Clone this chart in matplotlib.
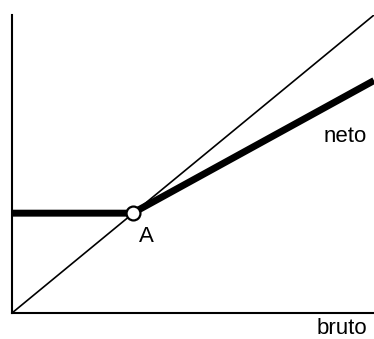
import matplotlib.pyplot as plt

plt.rcParams['font.family'] = ['Liberation Sans', 'DejaVu Sans']

# thin 45-degree line: neto = bruto
diag_x = [0.0, 1.0]
diag_y = [0.0, 1.0]

# thick line: neto as function of bruto
neto_x = [0.0, 0.333, 1.0]
neto_y = [0.335, 0.335, 0.78]

# point A
a_x = [0.333]
a_y = [0.335]

fig = plt.figure(figsize=(3.74, 3.39), dpi=100)
ax = fig.add_axes([12 / 374, 26 / 339, 362 / 374, 298 / 339])

ax.plot(diag_x, diag_y, color='black', lw=1.2, solid_capstyle='butt')
ax.plot(neto_x, neto_y, color='black', lw=5, solid_capstyle='butt', solid_joinstyle='miter')
ax.plot(a_x, a_y, 'o', ms=10, mfc='white', mec='black', mew=1.6, zorder=5)

ax.text(0.370, 0.238, 'A', ha='center', va='baseline', fontsize=16)
ax.text(0.981, 0.574, 'neto', ha='right', va='baseline', fontsize=16)
ax.text(0.981, -0.072, 'bruto', ha='right', va='baseline', fontsize=16)

ax.set_xlim(0, 1)
ax.set_ylim(0, 1)
ax.spines['top'].set_visible(False)
ax.spines['right'].set_visible(False)
ax.spines['left'].set_linewidth(1.5)
ax.spines['bottom'].set_linewidth(1.5)
ax.set_xticks([])
ax.set_yticks([])

fig.savefig('out.png', dpi=100)
